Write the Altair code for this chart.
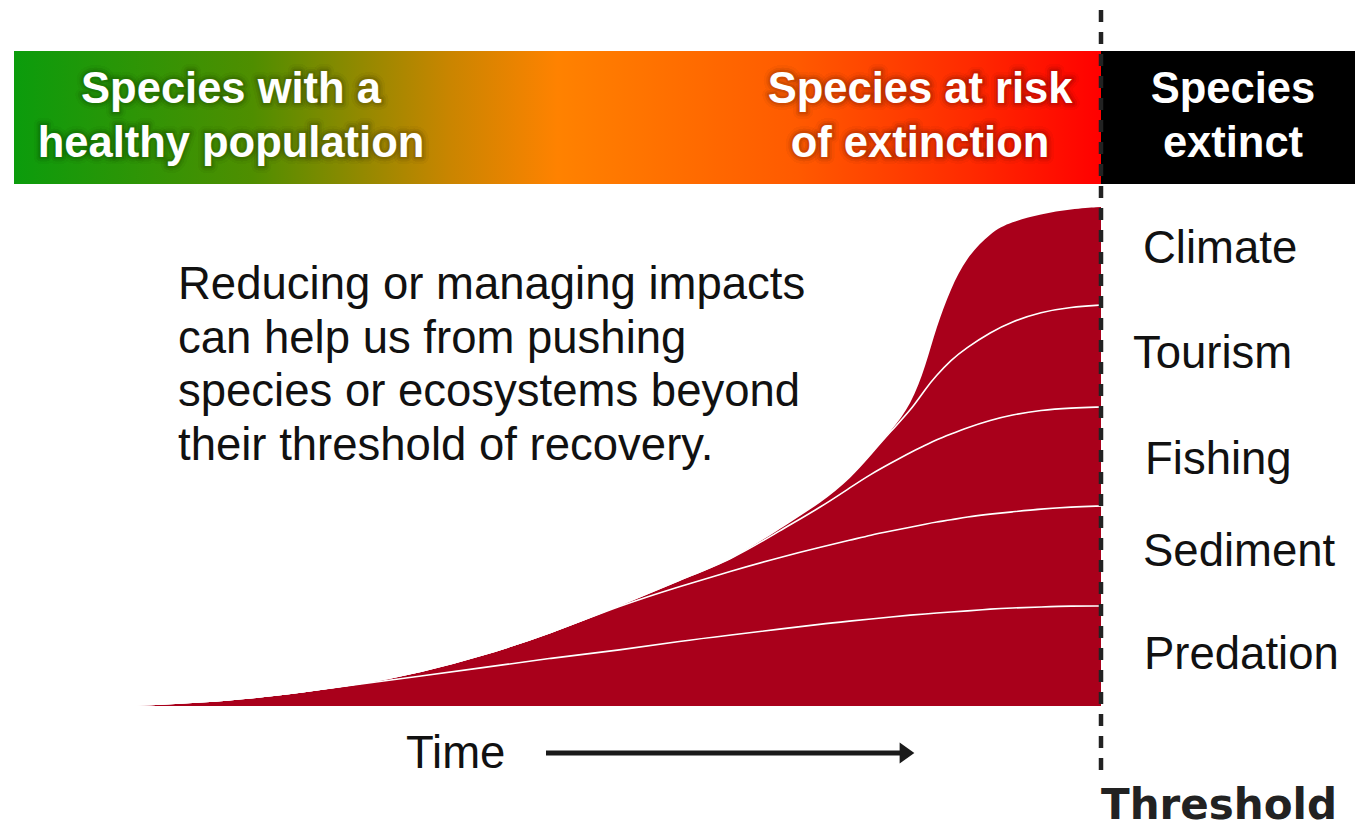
import altair as alt
import pandas as pd

# ---------------- data ----------------
time = [0, 5, 10, 15, 20, 26, 32, 38, 45, 52, 58, 63, 68, 72, 75, 77, 79,
        81, 82.5, 83.5, 85, 86.5, 89, 91, 94, 97, 100]
layer_names = ["Predation", "Sediment", "Fishing", "Tourism", "Climate"]
predation = [0, 0.012, 0.04, 0.08, 0.14, 0.22, 0.30, 0.38, 0.48, 0.56, 0.65, 0.71, 0.77,
             0.82, 0.85, 0.87, 0.89, 0.91, 0.92, 0.93, 0.94, 0.95, 0.97, 0.98, 0.99, 1.00, 1.00]
sediment = [0, 0, 0, 0, 0, 0, 0.04, 0.12, 0.25, 0.45, 0.55, 0.64, 0.72,
            0.77, 0.81, 0.84, 0.86, 0.88, 0.90, 0.91, 0.92, 0.94, 0.95, 0.96, 0.98, 0.99, 1.00]
fishing = [0, 0, 0, 0, 0, 0, 0, 0, 0, 0, 0.07, 0.11, 0.27,
           0.40, 0.53, 0.61, 0.68, 0.75, 0.79, 0.82, 0.86, 0.89, 0.94, 0.97, 0.99, 0.99, 0.99]
tourism = [0, 0, 0, 0, 0, 0, 0, 0, 0, 0, 0, 0, 0.03,
           0.05, 0.10, 0.20, 0.32, 0.42, 0.57, 0.64, 0.74, 0.80, 0.88, 0.93, 0.98, 1.01, 1.02]
climate = [0, 0, 0, 0, 0, 0, 0, 0, 0, 0, 0, 0, 0,
           0, 0, 0, 0, 0.05, 0.23, 0.48, 0.72, 0.90, 1.00, 1.00, 0.98, 0.98, 0.98]
series = [predation, sediment, fishing, tourism, climate]

banner_left = ["Species with a", "healthy population"]
banner_mid = ["Species at risk", "of extinction"]
banner_right = ["Species", "extinct"]
paragraph = ["Reducing or managing impacts",
             "can help us from pushing",
             "species or ecosystems beyond",
             "their threshold of recovery."]
threshold_time = 100
banner_start_time = -8.7

# ---------------- tables built from the arrays ----------------
rows = []
for i, t in enumerate(time):
    lower = 0.0
    for k, name in enumerate(layer_names):
        upper = lower + series[k][i]
        rows.append({"time": t, "layer": name, "rank": k,
                     "lower": round(lower, 4), "upper": round(upper, 4)})
        lower = upper
df = pd.DataFrame(rows)

end = df[df.time == time[-1]].copy()
end["mid"] = (end["lower"] + end["upper"]) / 2

# ---------------- geometry ----------------
W, H = 1347, 820
X0, PXT = 93, 10.0      # pixel of time 0, pixels per time unit
Y0, PXV = 698, 100.0    # pixel of value 0, pixels per value unit
xs = alt.Scale(domain=[-X0 / PXT, (W - X0) / PXT], nice=False, zero=False)
ys = alt.Scale(domain=[(Y0 - H) / PXV, Y0 / PXV], nice=False, zero=False)

FONT = "Liberation Sans"
one = pd.DataFrame({"k": [0]})

grad = alt.LinearGradient(
    gradient="linear", x1=0, x2=1, y1=0, y2=0,
    stops=[alt.GradientStop(color="#0b9c0c", offset=0),
           alt.GradientStop(color="#4f8e00", offset=0.22),
           alt.GradientStop(color="#c98500", offset=0.40),
           alt.GradientStop(color="#ff8200", offset=0.50),
           alt.GradientStop(color="#ff5a00", offset=0.72),
           alt.GradientStop(color="#ff2a00", offset=0.88),
           alt.GradientStop(color="#ff0000", offset=1.0)])

banner = alt.Chart(one).mark_rect(color=grad).encode(
    x=alt.XDatum(banner_start_time, scale=xs, axis=None),
    x2=alt.X2Datum(threshold_time),
    y=alt.value(43), y2=alt.value(176))
black = alt.Chart(one).mark_rect(color="#000000").encode(
    x=alt.XDatum(threshold_time, scale=xs, axis=None), x2=alt.value(W),
    y=alt.value(43), y2=alt.value(176))


def text_block(lines, x, y, size, color, weight="normal", align="center",
               lh=54, glow=False, font=FONT):
    out = []
    if glow:
        for w, o in [(14, 0.05), (9, 0.07), (5, 0.09)]:
            out.append(alt.Chart(one).mark_text(
                text=lines, font=font, fontSize=size, fontWeight=weight,
                align=align, baseline="alphabetic", lineHeight=lh,
                fill="#000000", fillOpacity=0, stroke="#000000",
                strokeWidth=w, strokeOpacity=o, strokeJoin="round"
            ).encode(x=alt.value(x), y=alt.value(y)))
    out.append(alt.Chart(one).mark_text(
        text=lines, font=font, fontSize=size, fontWeight=weight,
        align=align, baseline="alphabetic", lineHeight=lh, color=color
    ).encode(x=alt.value(x), y=alt.value(y)))
    return out


btxt = []
btxt += text_block(banner_left, 223, 95, 43.5, "white", "bold", lh=54, glow=True)
btxt += text_block(banner_mid, 912, 95, 43.5, "white", "bold", lh=54, glow=True)
btxt += text_block(banner_right, 1225, 95, 43.5, "white", "bold", lh=54)

area = alt.Chart(df).mark_area(color="#a9001b", interpolate="basis").encode(
    x=alt.X("time:Q", scale=xs, axis=None),
    y=alt.Y("upper:Q", scale=ys, axis=None),
    y2="lower:Q",
    detail="layer:N")

lines = alt.Chart(df).transform_filter(alt.datum.layer != "Climate").mark_line(
    color="white", strokeWidth=1.6, interpolate="basis").encode(
    x=alt.X("time:Q", scale=xs, axis=None),
    y=alt.Y("upper:Q", scale=ys, axis=None),
    detail="layer:N")

# small per-label nudges (style only)
label_nudge = {"Climate": (42, -7), "Tourism": (32, -2), "Fishing": (44, 3),
               "Sediment": (42, -4), "Predation": (43, -1)}
labels = []
for name in layer_names:
    ddx, ddy = label_nudge[name]
    labels.append(alt.Chart(end).transform_filter(alt.datum.layer == name).mark_text(
        font=FONT, fontSize=45.5, align="left", baseline="middle", dx=ddx, dy=ddy,
        color="#111111").encode(
        x=alt.X("time:Q", scale=xs, axis=None),
        y=alt.Y("mid:Q", scale=ys, axis=None),
        text="layer:N"))

para = text_block(paragraph, 170, 291, 45.5, "#111111", align="left", lh=53.5)
time_lbl = text_block(["Time"], 398, 760, 45.5, "#111111", align="left")

arrow_line = alt.Chart(one).mark_rule(color="#1a1a1a", strokeWidth=5).encode(
    x=alt.value(538), x2=alt.value(893), y=alt.value(745))
arrow_head = alt.Chart(one).mark_point(
    shape="M -0.7 -1 L 0.7 0 L -0.7 1 Z", filled=True, size=441,
    color="#1a1a1a", opacity=1).encode(x=alt.value(899), y=alt.value(745))

thresh_rule = alt.Chart(one).mark_rule(
    color="#222222", strokeWidth=4.5, strokeDash=[12, 10]).encode(
    x=alt.XDatum(threshold_time, scale=xs, axis=None),
    y=alt.value(2), y2=alt.value(765))

thresh_txt = text_block(["Threshold"], 1211, 811, 42, "#222222", "bold",
                        font="DejaVu Sans")

chart = alt.layer(
    banner, black, *btxt, area, lines, *labels, *para, *time_lbl,
    arrow_line, arrow_head, thresh_rule, *thresh_txt
).properties(
    width=W, height=H, padding=0, autosize=alt.AutoSizeParams(type="none")
).configure_view(stroke=None)

chart.save("out.html", embed_options={"renderer": "svg", "actions": False})
